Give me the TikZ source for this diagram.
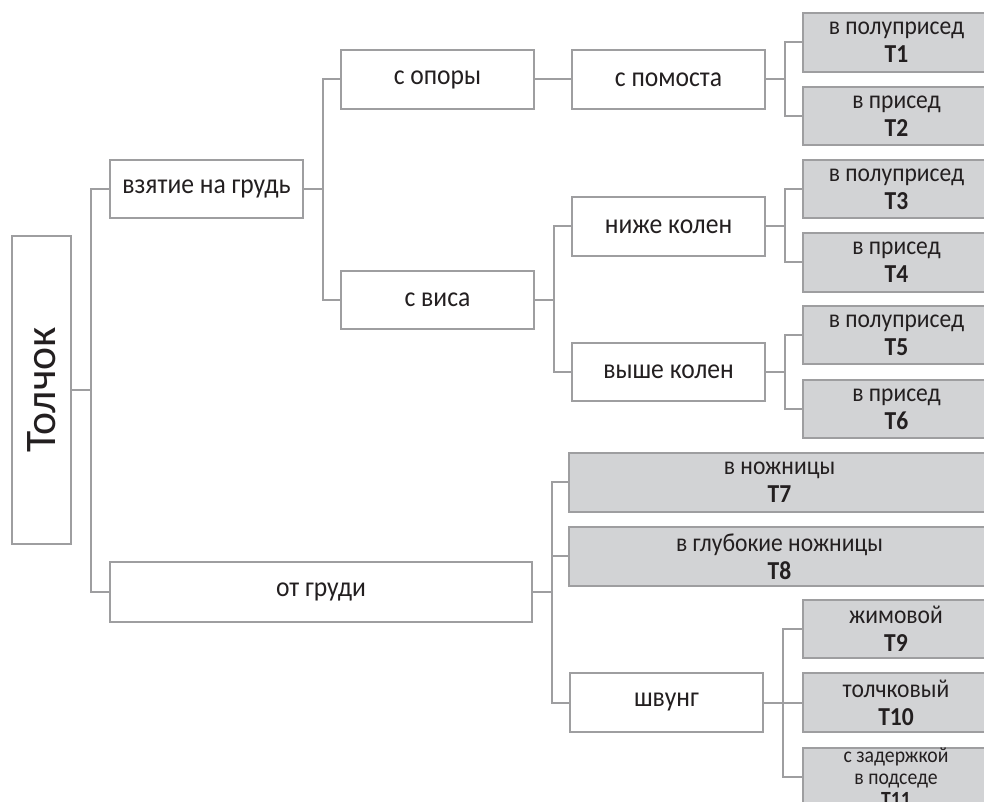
\documentclass[tikz,border=0pt]{standalone}
\usepackage{fontspec}
\setmainfont{Carlito}[FakeStretch=0.91]
\newfontfamily\rootfont{Carlito}
\usepackage{tikz}
\usetikzlibrary{positioning}
\usepackage{xcolor}
\definecolor{lngray}{RGB}{158,158,160}
\definecolor{boxgray}{RGB}{210,211,213}
\definecolor{txtdark}{RGB}{35,31,32}
\tikzstyle{conn} = [line width=0.5mm, color=lngray]
\tikzstyle{wbox} = [draw=lngray, line width=0.5mm, fill=white, inner sep=0pt, minimum height=14.6mm, minimum width=48.25mm, align=center, text=txtdark, font=\fontsize{20}{22}\selectfont]
\tikzstyle{gbox} = [wbox, fill=boxgray, minimum width=46.75mm, font=\fontsize{18.4}{20}\selectfont]

\begin{document}
\begin{tikzpicture}[x=0.25mm, y=-0.25mm]
\useasboundingbox (0,0) rectangle (984,802);
\clip (0,0) rectangle (984,802);

% root
\node[wbox, minimum width=14.75mm, minimum height=77mm] (tolchok) at (41.5,390) {\rotatebox{90}{\rootfont\fontsize{31}{36}\selectfont Толчок}};

% second level
\node[wbox] (vzyatie) at (206.5,189) {взятие на грудь};
\node[wbox, minimum width=105.5mm, minimum height=15mm] (otgrudi) at (321,592) {от груди};

% third level
\node[wbox] (sopory) at (437.5,79.5) {с опоры};
\node[wbox] (svisa) at (437.5,300) {с виса};
\node[wbox] (pomost) at (668.5,79.5) {с помоста};
\node[wbox] (nizhe) at (668.5,226.5) {ниже колен};
\node[wbox] (vyshe) at (668.5,372) {выше колен};
\node[wbox] (shvung) at (666.5,702.5) {швунг};

% final variants
\node[gbox] (t1) at (896.5,42.5) {в полуприсед\\\textbf{T1}};
\node[gbox] (t2) at (896.5,116) {в присед\\\textbf{T2}};
\node[gbox] (t3) at (896.5,189) {в полуприсед\\\textbf{T3}};
\node[gbox] (t4) at (896.5,262.5) {в присед\\\textbf{T4}};
\node[gbox] (t5) at (896.5,335) {в полуприсед\\\textbf{T5}};
\node[gbox] (t6) at (896.5,409) {в присед\\\textbf{T6}};
\node[gbox, minimum width=105.25mm] (t7) at (779.5,482.5) {в ножницы\\\textbf{T7}};
\node[gbox, minimum width=105.25mm] (t8) at (779.5,556.5) {в глубокие ножницы\\\textbf{T8}};
\node[gbox] (t9) at (896,629) {жимовой\\\textbf{T9}};
\node[gbox] (t10) at (896,702.5) {толчковый\\\textbf{T10}};
\node[gbox] (t11) at (896,777) {};
\node[align=center, text=txtdark, font=\fontsize{15.4}{15.6}\selectfont] (t11txt) at (t11.center) {с задержкой\\в подседе\\\textbf{T11}};

% connectors
\foreach \a/\b in {tolchok/vzyatie, tolchok/otgrudi, vzyatie/sopory, vzyatie/svisa,
  sopory/pomost, svisa/nizhe, svisa/vyshe, pomost/t1, pomost/t2, nizhe/t3, nizhe/t4,
  vyshe/t5, vyshe/t6, otgrudi/t7, otgrudi/t8, otgrudi/shvung, shvung/t9, shvung/t10, shvung/t11}
  \draw[conn] (\a.east) -- ++(19,0) |- (\b.west);
\end{tikzpicture}
\end{document}
